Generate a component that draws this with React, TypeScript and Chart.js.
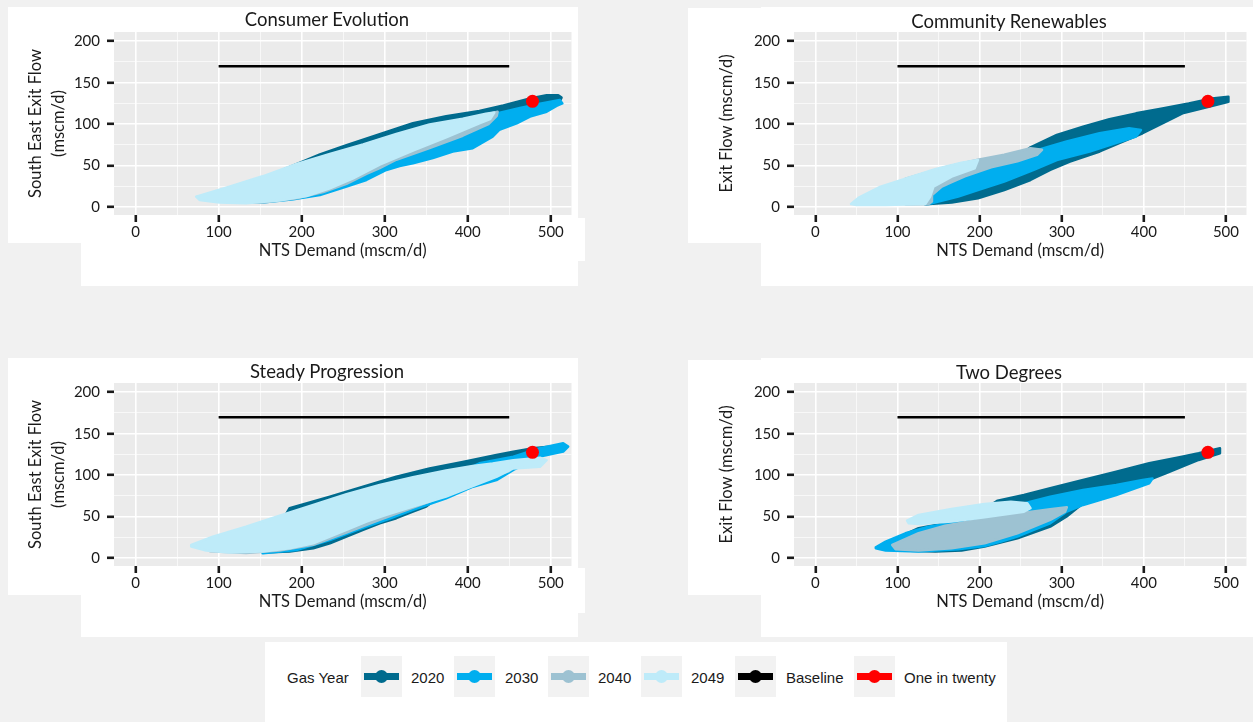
import React, { useEffect, useRef } from 'react';
import { Chart, registerables } from 'chart.js';

Chart.register(...registerables);

type Pt = [number, number];

// ---------- data ----------
const seriesNames = ['2020', '2030', '2040', '2049'];
const xTickValues = [0, 50, 100, 150, 200, 250, 300, 350, 400, 450, 500];
const yTickValues = [0, 25, 50, 75, 100, 125, 150, 175, 200];
const baselineXs = [100, 450];
const baselineY = 170;
const oneInTwenty: Pt = [478, 127.5];

// outlines of the dense point clouds, per scenario and gas year
const ce2020: Pt[] = [[180,46],[222,63.5],[254,74.5],[294,88],[334,101],[374,109.5],[414,116],[443,122.5],[475,131],[495,135],[509,135],[513,132],[511,128],[475,122],[435,112],[374,97],[294,70],[230,48],[180,40]];
const ce2030: Pt[] = [[133,6.5],[214,33],[294,65],[374,93],[435,113],[463,119.5],[487,124.5],[511,129],[514,125],[507,122],[495,115],[475,109],[459,101],[438,93],[430,85],[406,71],[382,67],[358,59],[334,52.7],[318,49.5],[302,44.7],[278,32.6],[254,24.6],[222,14.5],[190,9.3],[153,5.3]];
const ce2040: Pt[] = [[90,14],[150,33],[230,60],[300,83],[380,102],[420,111],[436,115],[435,110],[425,100],[394,86],[354,71],[314,57],[294,47],[278,40],[254,28],[226,18],[194,10.5],[153,5.3],[110,6]];
const ce2049: Pt[] = [[73,12.5],[93,18.5],[113,24.6],[153,37],[194,52],[234,64],[274,75.5],[314,88],[354,99.5],[394,106.5],[422,112.5],[432,114],[427,106],[414,101],[374,84],[334,68],[294,51],[262,34.6],[234,22.6],[206,13.3],[173,7.7],[133,4.5],[101,5.3],[77,8.5]];

const cr2020: Pt[] = [[140,4],[200,30],[240,55],[262,72],[294,87],[326,97],[358,106],[390.5,113],[422.6,119],[454.6,125],[483,131],[503,133],[503,127],[479,121],[447,113],[422.6,101],[398.5,89],[374.4,79],[346.3,67],[310,54.7],[286,44.7],[262,32.6],[230,20.5],[198,10.5],[166,5.3],[134,3.2]];
const cr2030: Pt[] = [[134,3.6],[140,8],[150,24],[190,42],[230,56],[278,71],[306,79],[346,89],[382,95],[396.5,93],[390.5,85],[366,77],[334,67],[294,56.7],[266,44.7],[230,30.6],[198,20.5],[174,12.5],[150,6.5],[138,3.6]];
const cr2040: Pt[] = [[110,34],[158,48],[198,57],[230,63],[262,71],[276,69],[270,63],[246,55],[214,48],[182,37],[166,30],[154,24.6],[142,14.5],[142,6.5],[138,3.6],[110,3]];
const cr2049: Pt[] = [[43.5,3.6],[53.5,11.7],[77.6,23.8],[109.7,34.2],[145.8,45.5],[178,53.5],[198,56.7],[194,46.7],[166,36.6],[143.8,24.6],[139.8,12.5],[133.8,3.6],[85.6,2.4],[50,2.5]];

const sp2020: Pt[] = [[185.5,60],[234,74],[274,86],[314,98],[354,108],[394,116],[434.6,124.3],[455,128.3],[478.7,132.4],[507,135.2],[507,130],[480,125],[455,118],[420,104],[380,85],[350,62],[334,56],[314,48],[294,41.9],[274,33.8],[254,25.8],[234,17.7],[214,11.7],[185.5,7.7],[153.4,6.5]];
const sp2030: Pt[] = [[153,6],[300,60],[414,114.3],[455,122.3],[487,132.4],[515,138.4],[521,134.4],[515,128.4],[487,122.3],[455,106.2],[434.6,94],[406.4,86],[374,72],[334,58],[302,45.9],[278,37.8],[234,21.7],[193.6,9.7],[153.4,5.7]];
const sp2040: Pt[] = [[80,18],[200,58],[300,88],[400,108],[450,115],[450,105],[414,93],[354,68],[294,46],[254,30.5],[214,16],[173.5,9],[133,6],[90,8]];
const sp2049: Pt[] = [[67,15.7],[93,25.8],[133,37.8],[173.5,51],[214,64],[254,77],[294,88],[334,97.5],[374,105.5],[406,111],[430,114],[455,118],[487,121],[495,118],[487,110],[455,108],[434.6,98],[414.4,90],[374,74],[334,62],[302,52],[278,43.9],[254,33.8],[234,25.8],[214,17.7],[185.5,11.7],[153.4,7.7],[113,6.5],[85,8.9],[67,13.7]];

const td2020: Pt[] = [[85.6,17.7],[125.7,36],[158,42],[200,55],[222,69.2],[254,76],[286,84.1],[326,94.2],[366.4,104.2],[406.5,114.3],[446.6,122.3],[466.7,126.3],[492.7,132.4],[492.7,126.3],[466.7,118.3],[446.6,110.2],[426.6,102.2],[406.5,94.2],[366,80],[326,66],[306,50],[286,37.8],[246,23.8],[206,13.7],[178,8.9],[146,7.7],[105.7,9],[80,11]];
const td2030: Pt[] = [[73.6,12.9],[85.6,19.7],[109.7,29.8],[137.8,37.8],[158,41],[200,50],[262,68],[286,74],[326,82],[366.4,88],[398.5,94],[410.5,96],[406.5,90.1],[366.4,76],[326,64],[306.2,56],[286,41.9],[266,33.8],[246,25.8],[226,19.7],[206,14.5],[174,10.5],[125.7,7.7],[85.6,8.9],[73.6,11.7]];
const td2040: Pt[] = [[93.6,15.7],[125.7,30],[158,39],[206,47.5],[254,54.5],[286,58.8],[306.2,61.2],[304.2,56],[286,45.9],[266,37.8],[246,29.8],[206,17.7],[166,11.7],[125.7,8.9],[97.7,10.5]];
const td2049: Pt[] = [[111.7,45.1],[125.7,52],[165.8,59.2],[206,65.2],[238,68],[258,66],[262,60],[254,55.9],[206,49.1],[166,43.9],[125.7,41],[113.7,41.9]];

// ---------- styles ----------
const seriesColors = ['#006B8E', '#00AEEF', '#9DC2D2', '#BEEBF9'];
const PANEL_BG = '#EBEBEB';
const TEXT = '#1a1a1a';
const FONT = 'Lato, "Open Sans", sans-serif';

type PanelCfg = {
  title: string; titleX: number; titleY: number;
  yTitle: string | string[]; yTitlePad: number;
  left: number; top: number; w: number; h: number; padRight: number;
  series: Pt[][];
};

const panels: PanelCfg[] = [
  { title: 'Consumer Evolution', titleX: 327, titleY: 19, yTitle: ['South East Exit Flow', '(mscm/d)'], yTitlePad: 16.5,
    left: 8, top: 7, w: 570, h: 254, padRight: 6, series: [ce2020, ce2030, ce2040, ce2049] },
  { title: 'Community Renewables', titleX: 1009, titleY: 20.5, yTitle: 'Exit Flow (mscm/d)', yTitlePad: 27.5,
    left: 688, top: 7, w: 565, h: 254, padRight: 1, series: [cr2020, cr2030, cr2040, cr2049] },
  { title: 'Steady Progression', titleX: 327, titleY: 371, yTitle: ['South East Exit Flow', '(mscm/d)'], yTitlePad: 16.5,
    left: 8, top: 358, w: 570, h: 254, padRight: 6, series: [sp2020, sp2030, sp2040, sp2049] },
  { title: 'Two Degrees', titleX: 1009, titleY: 371.5, yTitle: 'Exit Flow (mscm/d)', yTitlePad: 27.5,
    left: 688, top: 358, w: 565, h: 254, padRight: 1, series: [td2020, td2030, td2040, td2049] },
];

// white backing boxes of the collage: [left, top, width, height]
const whiteBoxes: number[][] = [
  [8, 7, 570, 236], [81, 243, 497, 43], [578, 218, 7, 43],
  [688, 8, 565, 235], [761, 7, 492, 279],
  [8, 358, 570, 237], [81, 595, 497, 42], [578, 568, 7, 45],
  [688, 360, 565, 235], [761, 358, 492, 279],
  [265, 642, 742, 80],
];

const panelBgPlugin = {
  id: 'panelBg',
  beforeDraw(chart: any) {
    const { ctx, chartArea } = chart;
    ctx.save();
    ctx.fillStyle = PANEL_BG;
    ctx.fillRect(chartArea.left, chartArea.top, chartArea.right - chartArea.left, chartArea.bottom - chartArea.top);
    ctx.restore();
  },
};

const isMajor = (v: number, step: number) => Math.abs(v % step) < 1e-9;

function Panel({ cfg }: { cfg: PanelCfg }) {
  const ref = useRef<HTMLCanvasElement>(null);
  useEffect(() => {
    const toXY = (pts: Pt[]) => [...pts, pts[0]].map(([x, y]) => ({ x, y }));
    const cloudSets = cfg.series.map((pts, i) => ({
      type: 'line' as const,
      label: seriesNames[i],
      data: toXY(pts),
      fill: 'shape',
      backgroundColor: seriesColors[i],
      borderColor: seriesColors[i],
      borderWidth: 2.5,
      borderJoinStyle: 'round',
      borderCapStyle: 'round',
      pointRadius: 0,
      tension: 0,
      order: 5 - i,
    }));
    const chart = new Chart(ref.current as HTMLCanvasElement, {
      type: 'line',
      data: {
        datasets: [
          ...cloudSets,
          {
            type: 'line', label: 'Baseline',
            data: baselineXs.map((x) => ({ x, y: baselineY })),
            borderColor: '#000000', borderWidth: 2.5, pointRadius: 0, fill: false, order: 1,
          },
          {
            type: 'scatter', label: 'One in twenty',
            data: [{ x: oneInTwenty[0], y: oneInTwenty[1] }],
            pointRadius: 6.5, backgroundColor: '#FF0000', borderColor: '#FF0000', pointBorderWidth: 0, order: 0,
          },
        ] as any,
      },
      options: {
        responsive: false,
        animation: false,
        events: [],
        layout: { padding: { top: 25, right: cfg.padRight, bottom: 0, left: 0 } },
        plugins: { legend: { display: false }, tooltip: { enabled: false }, title: { display: false } },
        scales: {
          x: {
            type: 'linear', min: -26, max: 525,
            afterBuildTicks: (s: any) => { s.ticks = xTickValues.map((v) => ({ value: v })); },
            afterFit: (s: any) => { s.height = 46; },
            border: { display: false },
            grid: {
              color: (c: any) => (c.tick && isMajor(c.tick.value, 100) ? '#FFFFFF' : 'rgba(255,255,255,0.8)'),
              lineWidth: (c: any) => (c.tick && isMajor(c.tick.value, 100) ? 1.6 : 0.8),
              drawTicks: true, tickLength: 7, tickWidth: 2.6,
              tickColor: (c: any) => (c.tick && isMajor(c.tick.value, 100) ? TEXT : 'rgba(0,0,0,0)'),
            },
            ticks: {
              autoSkip: false, maxRotation: 0, padding: 1, color: TEXT,
              font: { family: FONT, size: 15 },
              callback: (v: any) => (isMajor(Number(v), 100) ? String(v) : ''),
            },
            title: {
              display: true, text: 'NTS Demand (mscm/d)', color: TEXT,
              font: { family: FONT, size: 16.5, lineHeight: 1.2 }, padding: { top: 0, bottom: 0 },
            },
          },
          y: {
            type: 'linear', min: -9.7, max: 211.2,
            afterBuildTicks: (s: any) => { s.ticks = yTickValues.map((v) => ({ value: v })); },
            afterFit: (s: any) => { s.width = 106; },
            border: { display: false },
            grid: {
              color: (c: any) => (c.tick && isMajor(c.tick.value, 50) ? '#FFFFFF' : 'rgba(255,255,255,0.8)'),
              lineWidth: (c: any) => (c.tick && isMajor(c.tick.value, 50) ? 1.6 : 0.8),
              drawTicks: true, tickLength: 7, tickWidth: 2.6,
              tickColor: (c: any) => (c.tick && isMajor(c.tick.value, 50) ? TEXT : 'rgba(0,0,0,0)'),
            },
            ticks: {
              autoSkip: false, padding: 7, color: TEXT,
              font: { family: FONT, size: 15 },
              callback: (v: any) => (isMajor(Number(v), 50) ? String(v) : ''),
            },
            title: {
              display: true, text: cfg.yTitle, color: TEXT,
              font: { family: FONT, size: 16.5, lineHeight: 1.4 }, padding: { top: cfg.yTitlePad, bottom: 0 },
            },
          },
        },
      } as any,
      plugins: [panelBgPlugin],
    });
    return () => chart.destroy();
  }, []);
  return (
    <canvas
      ref={ref}
      width={cfg.w}
      height={cfg.h}
      style={{ position: 'absolute', left: cfg.left, top: cfg.top, width: cfg.w, height: cfg.h }}
    />
  );
}

const legendItems = [
  { label: '2020', color: seriesColors[0] },
  { label: '2030', color: seriesColors[1] },
  { label: '2040', color: seriesColors[2] },
  { label: '2049', color: seriesColors[3] },
  { label: 'Baseline', color: '#000000' },
  { label: 'One in twenty', color: '#FF0000' },
];
const legendKeyLefts = [361, 454, 548, 641, 735, 854];
const legendLabelLefts = [411, 505, 598, 691, 786, 904];

const LEGEND_FONT = '"Liberation Sans", Arial, sans-serif';

export default function App() {
  return (
    <div style={{ position: 'absolute', left: 0, top: 0, width: 1253, height: 722, background: '#F1F1F1', overflow: 'hidden' }}>
      {whiteBoxes.map(([l, t, w, h], i) => (
        <div key={'wb' + i} style={{ position: 'absolute', left: l, top: t, width: w, height: h, background: '#FFFFFF' }} />
      ))}
      {panels.map((p, i) => (
        <React.Fragment key={'p' + i}>
          <Panel cfg={p} />
          <div style={{
            position: 'absolute', left: p.titleX, top: p.titleY, transform: 'translate(-50%, -50%)',
            fontFamily: FONT, fontSize: 18.5, color: TEXT, whiteSpace: 'nowrap', lineHeight: 1,
          }}>{p.title}</div>
        </React.Fragment>
      ))}
      <div style={{
        position: 'absolute', left: 287, top: 677, transform: 'translateY(-50%)',
        fontFamily: LEGEND_FONT, fontSize: 15, color: TEXT, whiteSpace: 'nowrap', lineHeight: 1,
      }}>Gas Year</div>
      {legendItems.map((it, i) => (
        <React.Fragment key={'lg' + i}>
          <div style={{ position: 'absolute', left: legendKeyLefts[i], top: 656, width: 41, height: 41, background: '#F2F2F2' }}>
            <div style={{ position: 'absolute', left: 3, top: 17, width: 35, height: 7, background: it.color }} />
            <div style={{ position: 'absolute', left: 14, top: 14, width: 13, height: 13, borderRadius: 6.5, background: it.color }} />
          </div>
          <div style={{
            position: 'absolute', left: legendLabelLefts[i], top: 677, transform: 'translateY(-50%)',
            fontFamily: LEGEND_FONT, fontSize: 15, color: TEXT, whiteSpace: 'nowrap', lineHeight: 1,
          }}>{it.label}</div>
        </React.Fragment>
      ))}
    </div>
  );
}
